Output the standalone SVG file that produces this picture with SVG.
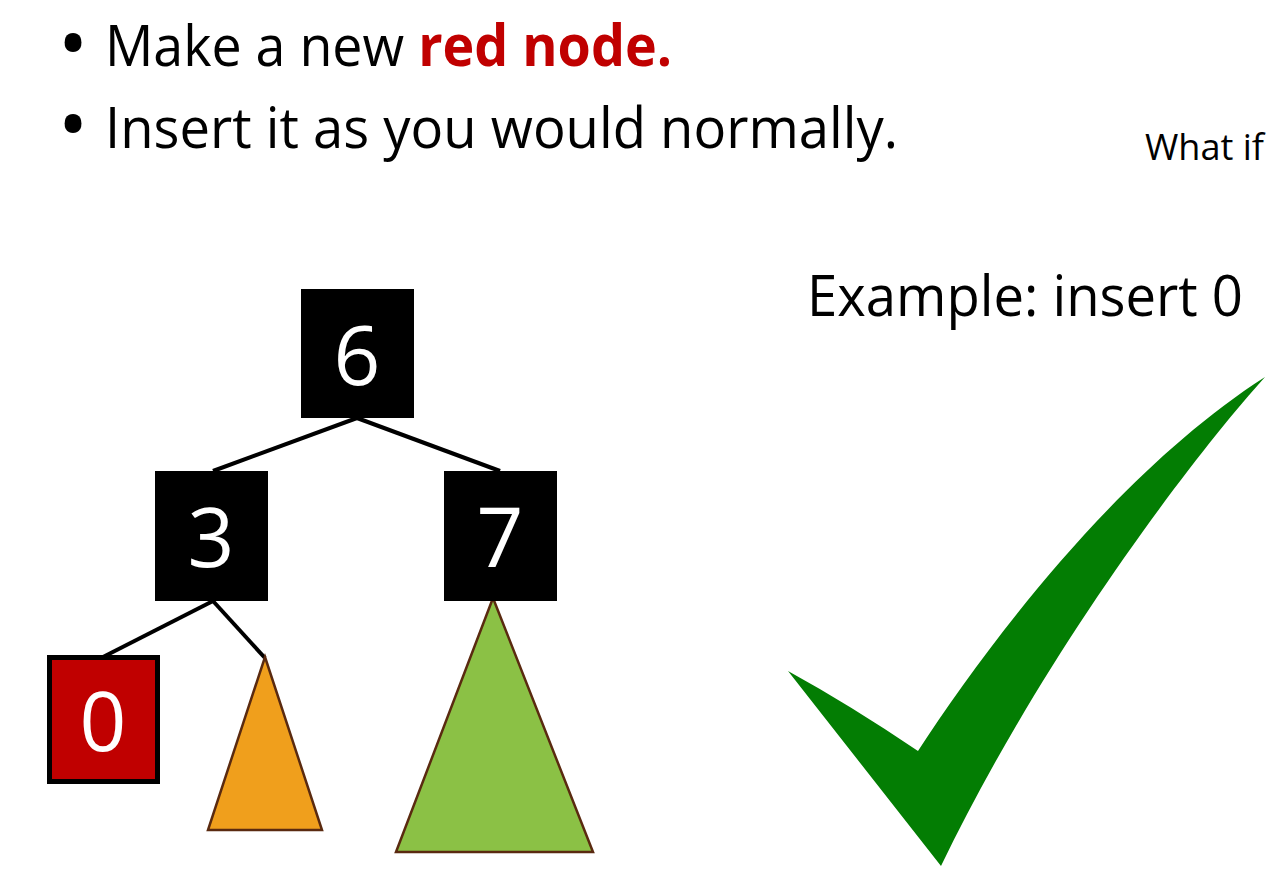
<svg xmlns="http://www.w3.org/2000/svg" width="1269" height="893" viewBox="0 0 1269 893">
  <style>
    .txt { font-family: "Open Sans", "Noto Sans", "Liberation Sans", sans-serif; fill: #000; }
    .big { font-size: 57px; }
    .bullet { font-family: "Open Sans", "Noto Sans", "Liberation Sans", sans-serif; font-size: 60px; font-weight: bold; text-anchor: middle; fill: #000; }
    .red { fill: #C00000; font-weight: bold; }
    .node-black { fill: #000; }
    .node-red { fill: #C00000; stroke: #000; stroke-width: 5; }
    .key { font-family: "Open Sans", "Noto Sans", "Liberation Sans", sans-serif; font-size: 82px; fill: #fff; text-anchor: middle; }
    .edge { stroke: #000; stroke-width: 4; fill: none; }
    .subtree { stroke: #5A2A10; stroke-width: 2.5; stroke-linejoin: miter; }
  </style>
  <rect width="1269" height="893" fill="#fff"/>

  <!-- bullet list -->
  <g id="bullets">
    <text class="bullet" x="73" y="65">•</text>
    <text class="txt big" x="105" y="66" textLength="567" lengthAdjust="spacingAndGlyphs">Make a new <tspan class="red">red node.</tspan></text>
    <text class="bullet" x="73" y="146">•</text>
    <text class="txt big" x="105" y="148" textLength="793" lengthAdjust="spacingAndGlyphs">Insert it as you would normally.</text>
  </g>

  <text class="txt" x="1145" y="160" font-size="37" textLength="119" lengthAdjust="spacingAndGlyphs">What if</text>
  <text class="txt" x="807" y="316" font-size="57" textLength="436" lengthAdjust="spacingAndGlyphs">Example: insert 0</text>

  <!-- tree edges -->
  <g id="connectors">
    <line class="edge" x1="357" y1="418" x2="213" y2="471"/>
    <line class="edge" x1="357" y1="418" x2="500" y2="471"/>
    <line class="edge" x1="213" y1="601" x2="103" y2="657"/>
    <line class="edge" x1="213" y1="601" x2="265" y2="658"/>
  </g>

  <!-- subtrees -->
  <g id="subtree-left">
    <polygon class="subtree" points="265,657 322,830 208,830" fill="#F09F1C"/>
  </g>
  <g id="subtree-right">
    <polygon class="subtree" points="493,598 593,852 396,852" fill="#8BC145"/>
  </g>

  <!-- nodes -->
  <g id="node-6">
    <rect class="node-black" x="301" y="289" width="113" height="129"/>
    <text class="key" x="357" y="385">6</text>
  </g>
  <g id="node-3">
    <rect class="node-black" x="155" y="471" width="113" height="130"/>
    <text class="key" x="211" y="567">3</text>
  </g>
  <g id="node-7">
    <rect class="node-black" x="444" y="471" width="113" height="130"/>
    <text class="key" x="500" y="567">7</text>
  </g>
  <g id="node-0">
    <rect class="node-red" x="49.5" y="657.5" width="108" height="124"/>
    <text class="key" x="103" y="751">0</text>
  </g>

  <!-- check mark -->
  <g id="checkmark">
    <path d="M788,671 Q850,705 918,751 C990,640 1120,470 1265,377 C1190,460 1040,660 941,866 Z" fill="#037D03"/>
  </g>
</svg>
